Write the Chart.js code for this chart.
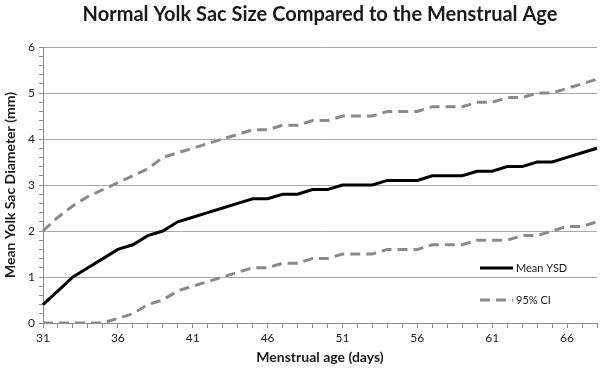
<!DOCTYPE html>
<html>
<head>
<meta charset="utf-8">
<script src="https://cdn.jsdelivr.net/npm/chart.js@4.4.1/dist/chart.umd.min.js"></script>
<style>
  html, body { margin: 0; padding: 0; background: #fff; }
  #wrap { width: 600px; height: 368px; }
</style>
</head>
<body>
<div id="wrap"><canvas id="yolkChart"></canvas></div>
<script>
// menstrual age in days
var days = [];
for (var d = 31; d <= 68; d++) days.push(String(d));

var meanYSD = [0.4, 0.7, 1.0, 1.2, 1.4, 1.6, 1.7, 1.9, 2.0, 2.2,
               2.3, 2.4, 2.5, 2.6, 2.7, 2.7, 2.8, 2.8, 2.9, 2.9,
               3.0, 3.0, 3.0, 3.1, 3.1, 3.1, 3.2, 3.2, 3.2, 3.3,
               3.3, 3.4, 3.4, 3.5, 3.5, 3.6, 3.7, 3.8];

var upperCI = [2.0, 2.3, 2.55, 2.75, 2.9, 3.05, 3.2, 3.35, 3.6, 3.7,
               3.8, 3.9, 4.0, 4.1, 4.2, 4.2, 4.3, 4.3, 4.4, 4.4,
               4.5, 4.5, 4.5, 4.6, 4.6, 4.6, 4.7, 4.7, 4.7, 4.8,
               4.8, 4.9, 4.9, 5.0, 5.0, 5.1, 5.2, 5.3];

var lowerCI = [0, 0, 0, 0, 0, 0.1, 0.2, 0.4, 0.5, 0.7,
               0.8, 0.9, 1.0, 1.1, 1.2, 1.2, 1.3, 1.3, 1.4, 1.4,
               1.5, 1.5, 1.5, 1.6, 1.6, 1.6, 1.7, 1.7, 1.7, 1.8,
               1.8, 1.8, 1.9, 1.9, 2.0, 2.1, 2.1, 2.2];

var yTicks = [0, 1, 2, 3, 4, 5, 6];

var FONT = "Lato, 'Open Sans', sans-serif";
var ciColor = "#8a8a8a";
var ciDash = [10, 6];

function isWhole(v) {
   return Math.abs(v - Math.round(v)) < 1e-6;
}

// legend drawn inside the plot, lower right
var insideLegend = {
   id: "insideLegend",
   afterDraw: function (chart) {
      var ctx = chart.ctx;
      var area = chart.chartArea;
      var items = [
         { ds: chart.data.datasets[0], y: area.bottom - 55 },
         { ds: chart.data.datasets[1], y: area.bottom - 23 },
      ];
      ctx.save();
      ctx.font = "11px " + FONT;
      ctx.textBaseline = "middle";
      ctx.fillStyle = "#1a1a1a";
      items.forEach(function (it) {
         var x0 = area.right - 117;
         ctx.strokeStyle = it.ds.borderColor;
         ctx.lineWidth = it.ds.borderWidth;
         ctx.setLineDash(it.ds.borderDash || []);
         ctx.beginPath();
         ctx.moveTo(x0, it.y);
         ctx.lineTo(x0 + 33, it.y);
         ctx.stroke();
         ctx.setLineDash([]);
         ctx.fillText(it.ds.label, x0 + 36, it.y);
      });
      ctx.restore();
   },
};

var ctx = document.getElementById("yolkChart").getContext("2d");
var chart = new Chart(ctx, {
   type: "line",
   data: {
      labels: days,
      datasets: [
         {
            label: "Mean YSD",
            data: meanYSD,
            borderColor: "#000000",
            borderWidth: 3,
            pointRadius: 0,
            tension: 0,
            order: 0,
         },
         {
            label: "95% CI",
            data: upperCI,
            borderColor: ciColor,
            borderWidth: 3,
            borderDash: ciDash,
            pointRadius: 0,
            tension: 0,
            order: 1,
         },
         {
            label: "95% CI lower",
            data: lowerCI,
            borderColor: ciColor,
            borderWidth: 3,
            borderDash: ciDash,
            pointRadius: 0,
            tension: 0,
            order: 1,
         },
      ],
   },
   options: {
      responsive: true,
      maintainAspectRatio: false,
      animation: false,
      layout: { padding: { right: 3, bottom: 0, left: 0, top: 0 } },
      plugins: {
         legend: { display: false },
         tooltip: { enabled: false },
         title: {
            display: true,
            fullSize: false,
            text: "Normal Yolk Sac Size Compared to the Menstrual Age",
            color: "#1a1a1a",
            font: { family: FONT, size: 20, weight: "bold" },
            padding: { top: 3, bottom: 20 },
         },
      },
      scales: {
         x: {
            offset: false,
            border: { color: "#8c8c8c" },
            grid: {
               drawOnChartArea: false,
               tickLength: 5,
               tickColor: "#8c8c8c",
            },
            ticks: {
               autoSkip: false,
               maxRotation: 0,
               color: "#1a1a1a",
               font: { family: FONT, size: 12 },
               padding: 3,
               callback: function (val, i) {
                  return i % 5 === 0 ? days[i] : "";
               },
            },
            title: {
               display: true,
               text: "Menstrual age (days)",
               color: "#1a1a1a",
               font: { family: FONT, size: 14, weight: "bold" },
               padding: { top: 4, bottom: 2 },
            },
            afterFit: function (s) { s.height = 45; },
         },
         y: {
            min: yTicks[0],
            max: yTicks[yTicks.length - 1],
            border: { color: "#8c8c8c" },
            grid: {
               color: function (c) {
                  return c.tick && isWhole(c.tick.value) ? "#a8a8a8" : "rgba(0,0,0,0)";
               },
               tickColor: "#8c8c8c",
               tickLength: 4,
            },
            ticks: {
               stepSize: 0.2,
               autoSkip: false,
               color: "#1a1a1a",
               font: { family: FONT, size: 12 },
               padding: 4,
               callback: function (v) {
                  return isWhole(v) && yTicks.indexOf(Math.round(v)) >= 0 ? String(Math.round(v)) : "";
               },
            },
            title: {
               display: true,
               text: "Mean Yolk Sac Diameter (mm)",
               color: "#1a1a1a",
               font: { family: FONT, size: 14, weight: "bold" },
               padding: { top: 2, bottom: 4 },
            },
            afterFit: function (s) { s.width = 43; },
         },
      },
   },
   plugins: [insideLegend],
});
</script>
</body>
</html>
